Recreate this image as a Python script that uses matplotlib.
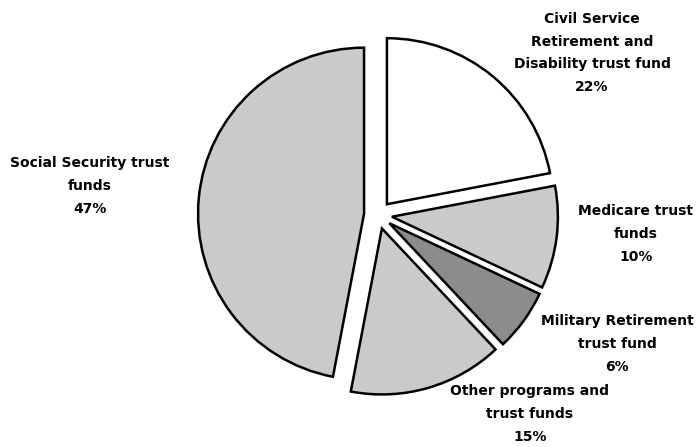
import matplotlib.pyplot as plt

plt.rcParams['font.family'] = ['DejaVu Sans']

# Shares of trust fund holdings (percent), clockwise from 12 o'clock
categories = ["Civil Service\nRetirement and\nDisability trust fund",
              "Medicare trust\nfunds",
              "Military Retirement\ntrust fund",
              "Other programs and\ntrust funds",
              "Social Security trust\nfunds"]
shares = [22, 10, 6, 15, 47]
colors = ["white", "#cacaca", "#8c8c8c", "#cacaca", "#cacaca"]

# label anchor points (pixels from top-left)
label_pos = [(592, 53), (636, 234), (617, 344), (530, 414), (90, 186)]

W, H = 699, 447
fig = plt.figure(figsize=(W / 100, H / 100), dpi=100)
ax = fig.add_axes([0, 0, 1, 1])

# axes work in pixel units, so explode / radius are in pixels too
ax.pie(shares, colors=colors, explode=[14] * len(shares), startangle=90,
       counterclock=False, center=(378, H - 215), radius=166,
       wedgeprops=dict(edgecolor="black", linewidth=1.8))
ax.set_xlim(0, W)
ax.set_ylim(0, H)
ax.set_aspect("equal")
ax.axis("off")

for name, val, (x, y) in zip(categories, shares, label_pos):
    ax.text(x, H - y, f"{name}\n{val}%", ha="center", va="center",
            fontsize=10, fontweight="bold", linespacing=1.8)

fig.savefig("out.png", dpi=100)
